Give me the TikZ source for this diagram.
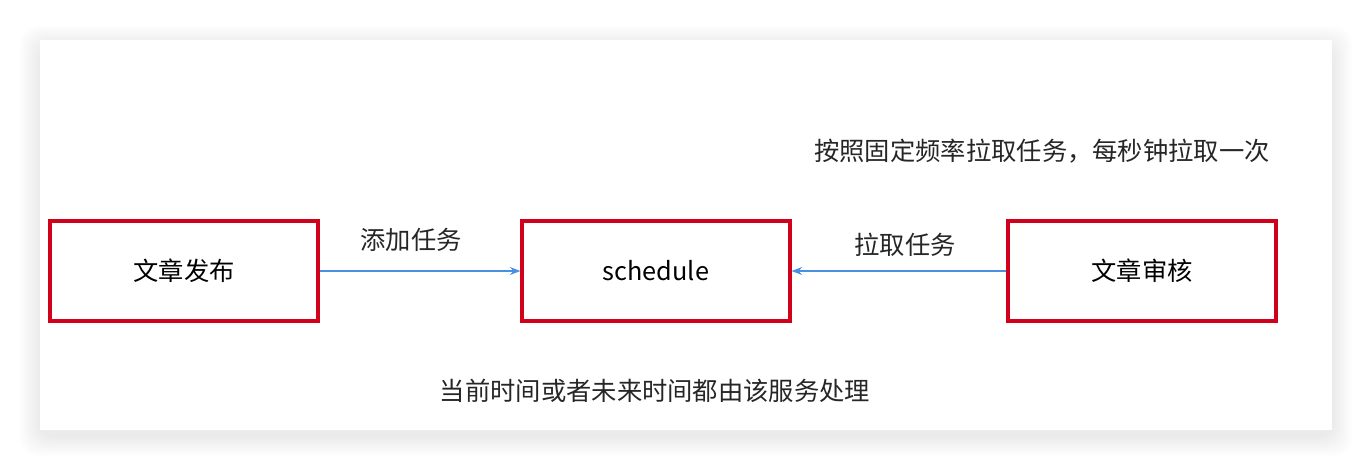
\documentclass[tikz,border=0pt]{standalone}
\usepackage{fontspec}
\setmainfont{Noto Sans CJK SC}
\usetikzlibrary{positioning}
\usetikzlibrary{arrows.meta}
\definecolor{boxred}{HTML}{D0021B}
\definecolor{lineblue}{HTML}{4A90E2}
\tikzset{%
	% boxes and labels
	base/.style = {rectangle, draw=boxred, line width=1.8pt,
		minimum width=5.36cm, minimum height=2cm, font=\fontsize{14.4pt}{16pt}\selectfont},
	note/.style = {font=\fontsize{14.4pt}{16pt}\selectfont, text=black!85},
	link/.style = {draw=lineblue, line width=0.7pt, -{Stealth[length=6pt]}}
}
\begin{document}
\begin{tikzpicture}[x=0.02cm, y=-0.02cm]
	\useasboundingbox (0,0) rectangle (1372,470);
	% card with a soft shadow
	\foreach \d in {20,18,...,2}
		\fill[black, opacity=0.006, rounded corners=10pt] (40-\d,40-\d+6) rectangle (1332+\d,430+\d+6);
	\fill[white] (40,40) rectangle (1332,430);
	\node (publish) [base] at (184,271) {文章发布};
	\node (sched) [base] at (656,271) {schedule};
	\node (review) [base] at (1142,271) {文章审核};
	\draw[link] (publish.east) -- (sched.west);
	\draw[link] (review.west) -- (sched.east);
	\node (addTask) [note] at (411,240) {添加任务};
	\node (pullTask) [note] at (905,245) {拉取任务};
	\node (freq) [note] at (1042,151) {按照固定频率拉取任务，每秒钟拉取一次};
	\node (handle) [note] at (655,391) {当前时间或者未来时间都由该服务处理};
\end{tikzpicture}
\end{document}
